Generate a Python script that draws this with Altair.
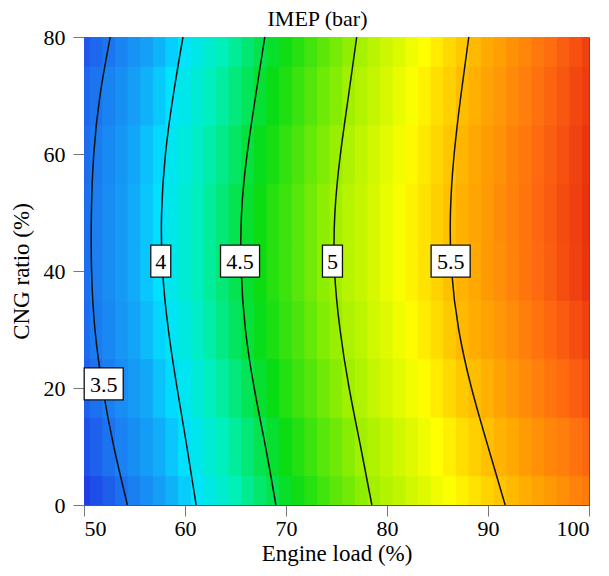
import altair as alt
import pandas as pd

# ---- data ----
load_levels = [50, 51.25, 52.5, 53.75, 55, 56.25, 57.5, 58.75, 60, 61.25, 62.5,
               63.75, 65, 66.25, 67.5, 68.75, 70, 71.25, 72.5, 73.75, 75,
               76.25, 77.5, 78.75, 80, 81.25, 82.5, 83.75, 85, 86.25, 87.5,
               88.75, 90, 91.25, 92.5, 93.75, 95, 96.25, 97.5, 98.75, 100]
cng_levels = [0, 10, 20, 30, 40, 50, 60, 70, 80]

imep_cng0 = [3.13, 3.24, 3.34, 3.45, 3.55, 3.64, 3.74, 3.83, 3.92, 4.01, 4.09,
             4.17, 4.25, 4.33, 4.41, 4.48, 4.55, 4.62, 4.68, 4.75, 4.82,
             4.88, 4.95, 5.01, 5.06, 5.10, 5.15, 5.20, 5.25, 5.29, 5.34,
             5.39, 5.44, 5.48, 5.52, 5.56, 5.60, 5.63, 5.67, 5.71, 5.74]
imep_cng10 = [3.26, 3.36, 3.47, 3.56, 3.64, 3.73, 3.82, 3.90, 3.99, 4.07, 4.15,
              4.23, 4.31, 4.39, 4.47, 4.54, 4.61, 4.67, 4.74, 4.81, 4.87,
              4.94, 5.00, 5.05, 5.10, 5.15, 5.20, 5.25, 5.30, 5.35, 5.40,
              5.45, 5.50, 5.54, 5.58, 5.62, 5.66, 5.70, 5.73, 5.77, 5.81]
imep_cng20 = [3.35, 3.46, 3.55, 3.63, 3.72, 3.80, 3.89, 3.97, 4.05, 4.13, 4.22,
              4.30, 4.38, 4.46, 4.54, 4.60, 4.67, 4.74, 4.80, 4.87, 4.94,
              5.00, 5.05, 5.11, 5.16, 5.21, 5.26, 5.31, 5.36, 5.42, 5.47,
              5.51, 5.55, 5.60, 5.64, 5.68, 5.72, 5.76, 5.80, 5.84, 5.88]
imep_cng30 = [3.42, 3.52, 3.60, 3.69, 3.77, 3.86, 3.95, 4.03, 4.11, 4.19, 4.28,
              4.36, 4.44, 4.52, 4.59, 4.65, 4.72, 4.78, 4.85, 4.92, 4.98,
              5.04, 5.09, 5.15, 5.20, 5.25, 5.31, 5.36, 5.41, 5.47, 5.52,
              5.56, 5.60, 5.64, 5.68, 5.73, 5.77, 5.81, 5.85, 5.89, 5.93]
imep_cng40 = [3.45, 3.54, 3.63, 3.72, 3.81, 3.90, 3.99, 4.07, 4.15, 4.23, 4.31,
              4.39, 4.47, 4.54, 4.61, 4.68, 4.74, 4.81, 4.88, 4.95, 5.01,
              5.07, 5.12, 5.17, 5.23, 5.28, 5.34, 5.39, 5.44, 5.50, 5.54,
              5.58, 5.63, 5.67, 5.71, 5.76, 5.80, 5.84, 5.89, 5.93, 5.97]
imep_cng50 = [3.45, 3.54, 3.63, 3.72, 3.81, 3.90, 3.99, 4.07, 4.15, 4.23, 4.31,
              4.39, 4.47, 4.54, 4.61, 4.68, 4.74, 4.81, 4.88, 4.95, 5.01,
              5.07, 5.12, 5.17, 5.23, 5.28, 5.34, 5.39, 5.45, 5.50, 5.55,
              5.59, 5.63, 5.68, 5.72, 5.76, 5.81, 5.85, 5.90, 5.94, 5.98]
imep_cng60 = [3.43, 3.52, 3.61, 3.70, 3.79, 3.88, 3.96, 4.05, 4.12, 4.20, 4.28,
              4.35, 4.43, 4.51, 4.58, 4.64, 4.71, 4.78, 4.85, 4.91, 4.98,
              5.04, 5.10, 5.15, 5.21, 5.26, 5.32, 5.37, 5.43, 5.48, 5.53,
              5.58, 5.62, 5.66, 5.71, 5.75, 5.80, 5.84, 5.88, 5.93, 5.97]
imep_cng70 = [3.39, 3.48, 3.57, 3.65, 3.74, 3.83, 3.91, 4.00, 4.07, 4.15, 4.23,
              4.30, 4.38, 4.45, 4.53, 4.60, 4.66, 4.73, 4.80, 4.87, 4.93,
              5.00, 5.06, 5.11, 5.17, 5.23, 5.28, 5.34, 5.40, 5.45, 5.51,
              5.55, 5.60, 5.64, 5.69, 5.73, 5.78, 5.82, 5.86, 5.91, 5.95]
imep_cng80 = [3.30, 3.40, 3.49, 3.58, 3.67, 3.75, 3.84, 3.93, 4.01, 4.09, 4.17,
              4.24, 4.32, 4.40, 4.48, 4.55, 4.62, 4.68, 4.75, 4.82, 4.89,
              4.96, 5.02, 5.08, 5.14, 5.19, 5.25, 5.30, 5.36, 5.42, 5.47,
              5.52, 5.57, 5.61, 5.66, 5.70, 5.75, 5.79, 5.84, 5.88, 5.93]

# contour lines: engine load where IMEP equals each level, at each CNG ratio
contour_cng = [0, 10, 20, 30, 40, 50, 60, 70, 80]
contour_3_5 = [54.3, 52.9, 51.8, 51.0, 50.7, 50.7, 50.9, 51.5, 52.6]
contour_4_0 = [61.1, 60.2, 59.2, 58.3, 57.7, 57.6, 58.0, 58.8, 59.8]
contour_4_5 = [69.0, 68.0, 66.8, 65.9, 65.5, 65.5, 66.1, 67.0, 67.9]
contour_5_0 = [78.5, 77.4, 76.2, 75.3, 74.7, 74.75, 75.35, 76.2, 77.0]
contour_5_5 = [91.7, 90.0, 88.3, 87.0, 86.3, 86.2, 86.6, 87.3, 88.1]

label_text = ["3.5", "4", "4.5", "5", "5.5"]
label_load = [51.95, 57.6, 65.45, 74.6, 86.3]
label_cng = [20.7, 41.7, 41.7, 41.7, 41.7]

# ---- tables ----
rows = {0: imep_cng0, 10: imep_cng10, 20: imep_cng20, 30: imep_cng30,
        40: imep_cng40, 50: imep_cng50, 60: imep_cng60, 70: imep_cng70,
        80: imep_cng80}
half_x = (load_levels[1] - load_levels[0]) / 2
half_y = (cng_levels[1] - cng_levels[0]) / 2
grid = []
for c in cng_levels:
    for l, v in zip(load_levels, rows[c]):
        grid.append({"x0": l - half_x, "x1": l + half_x,
                     "y0": c - half_y, "y1": c + half_y, "imep": v})
grid_df = pd.DataFrame(grid)

lines = []
for lvl, arr in [("3.5", contour_3_5), ("4", contour_4_0), ("4.5", contour_4_5),
                 ("5", contour_5_0), ("5.5", contour_5_5)]:
    for c, l in zip(contour_cng, arr):
        lines.append({"level": lvl, "load": l, "cng": c})
lines_df = pd.DataFrame(lines)

labels_df = pd.DataFrame({"text": label_text, "load": label_load, "cng": label_cng})
labels_df["wide"] = labels_df["text"].str.len() > 1

FONT = "Liberation Serif"
xs = alt.Scale(domain=[50, 100], nice=False, zero=False)
ys = alt.Scale(domain=[0, 80], nice=False, zero=False)

color_scale = alt.Scale(
    domain=[3.15, 3.5, 3.8, 4.0, 4.25, 4.6, 5.0, 5.3, 5.55, 5.8, 6.0],
    range=["#1f3fe6", "#1c78f0", "#12a8f8", "#00e4ff", "#00f0b8", "#08dc14",
           "#a0f000", "#ffff00", "#ffb000", "#ff6a10", "#e82c10"],
    interpolate="rgb",
)

heat = alt.Chart(grid_df).mark_rect(clip=True, strokeWidth=1.2).encode(
    x=alt.X("x0:Q", scale=xs, title="Engine load (%)",
            axis=alt.Axis(values=[50, 60, 70, 80, 90, 100])),
    x2="x1:Q",
    y=alt.Y("y0:Q", scale=ys, title="CNG ratio (%)",
            axis=alt.Axis(values=[0, 20, 40, 60, 80])),
    y2="y1:Q",
    color=alt.Color("imep:Q", scale=color_scale, legend=None),
    stroke=alt.Stroke("imep:Q", scale=color_scale, legend=None),
)

contours = alt.Chart(lines_df).mark_line(
    color="#111111", strokeWidth=1.5, interpolate="basis", clip=True
).encode(
    x=alt.X("load:Q", scale=xs),
    y=alt.Y("cng:Q", scale=ys),
    detail="level:N",
    order="cng:Q",
)

narrow_path = "M-0.625,-1L0.625,-1L0.625,1L-0.625,1Z"
wide_path = "M-1.22,-1L1.22,-1L1.22,1L-1.22,1Z"

box_narrow = alt.Chart(labels_df).transform_filter("!datum.wide").mark_point(
    shape=narrow_path, size=1024, filled=True, fill="white", stroke="#111111",
    strokeWidth=1.3, opacity=1, fillOpacity=1
).encode(x=alt.X("load:Q", scale=xs), y=alt.Y("cng:Q", scale=ys))

box_wide = alt.Chart(labels_df).transform_filter("datum.wide").mark_point(
    shape=wide_path, size=1024, filled=True, fill="white", stroke="#111111",
    strokeWidth=1.3, opacity=1, fillOpacity=1
).encode(x=alt.X("load:Q", scale=xs), y=alt.Y("cng:Q", scale=ys))

texts = alt.Chart(labels_df).mark_text(
    font=FONT, fontSize=22, color="black", align="center", baseline="middle", dy=1
).encode(x=alt.X("load:Q", scale=xs), y=alt.Y("cng:Q", scale=ys), text="text:N")

chart = alt.layer(heat, contours, box_narrow, box_wide, texts).properties(
    width=505,
    height=468,
    title=alt.TitleParams("IMEP (bar)", font=FONT, fontSize=22, fontWeight="normal",
                          color="black", offset=5, dx=-19, dy=10, frame="group"),
    autosize=alt.AutoSizeParams(type="none"),
    padding={"left": 84, "top": 37, "right": 20, "bottom": 71},
).configure_view(
    stroke="#555555", strokeWidth=1
).configure_axis(
    labelFont=FONT, titleFont=FONT, labelFontSize=22, titleFontSize=23,
    titleFontWeight="normal", labelColor="black", titleColor="black",
    domainColor="#555555", tickColor="#777777", tickSize=11, grid=False,
).configure_axisX(labelPadding=2, titlePadding=3).configure_axisY(
    labelPadding=8, titlePadding=10)

chart.save("out.html", embed_options={"renderer": "svg", "actions": False})
